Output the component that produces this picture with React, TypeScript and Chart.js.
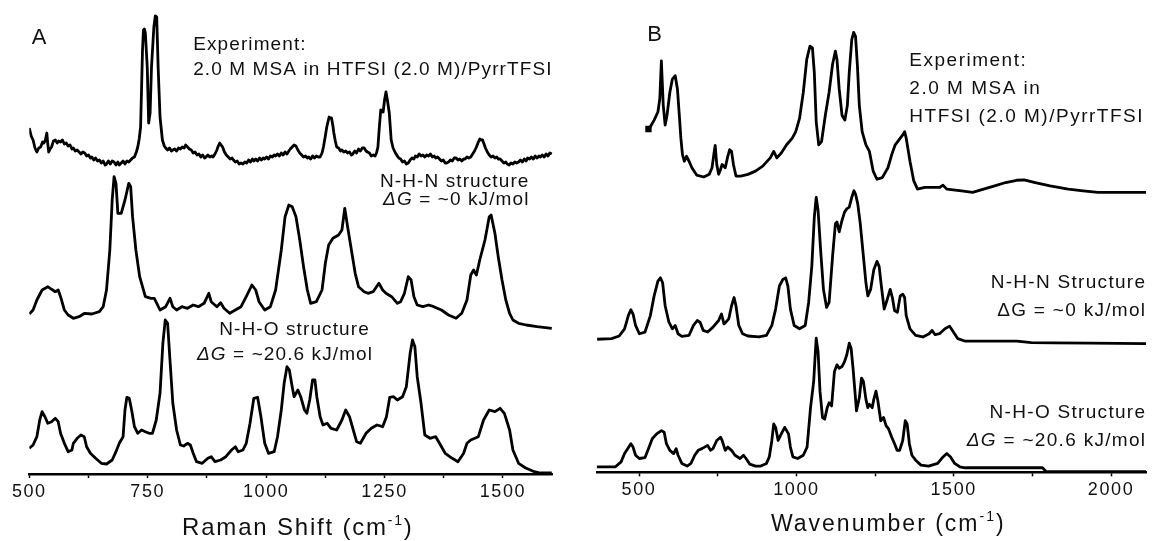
import { useEffect, useRef } from 'react';
import { Chart, registerables } from 'chart.js';

Chart.register(...registerables);

const FONT = "'Liberation Sans', Arial, sans-serif";

// ---------------- Panel A : Raman ----------------
const A_TICKS = [500, 750, 1000, 1250, 1500];
const A_MINOR_TICKS = [625, 875, 1125, 1375];
const A_OFFSETS = [290, 145, 0]; // experiment, N-H-N, N-H-O

const A_EXP_X = [500, 504, 508, 512, 516, 520, 524, 528, 531, 534, 537, 539, 541, 544, 547, 551, 555, 559, 562, 566, 570, 574, 578, 582, 586, 590, 593, 597, 601, 605, 609, 613, 617, 621, 625, 629, 632, 636, 640, 644, 648, 652, 656, 660, 663, 667, 671, 675, 679, 683, 687, 690, 694, 698, 702, 706, 710, 714, 718, 722, 726, 729, 732, 735, 739, 741, 743, 745, 749, 752, 755, 758, 763, 766, 769, 772, 776, 781, 785, 788, 792, 796, 800, 803, 807, 811, 815, 819, 823, 827, 830, 834, 838, 842, 846, 850, 854, 858, 862, 866, 870, 873, 877, 881, 885, 888, 892, 896, 899, 902, 905, 908, 912, 916, 920, 924, 928, 931, 935, 939, 943, 947, 951, 955, 959, 963, 967, 971, 974, 978, 982, 986, 990, 994, 997, 1001, 1005, 1009, 1013, 1017, 1020, 1024, 1028, 1032, 1036, 1040, 1044, 1048, 1051, 1055, 1059, 1063, 1067, 1071, 1075, 1079, 1083, 1087, 1090, 1094, 1098, 1102, 1106, 1110, 1114, 1118, 1121, 1125, 1128, 1133, 1135, 1138, 1141, 1143, 1146, 1149, 1153, 1157, 1160, 1164, 1168, 1172, 1176, 1180, 1183, 1187, 1191, 1195, 1199, 1203, 1207, 1211, 1214, 1218, 1222, 1226, 1230, 1233, 1236, 1239, 1242, 1245, 1247, 1250, 1253, 1256, 1260, 1264, 1268, 1273, 1277, 1280, 1284, 1288, 1292, 1296, 1300, 1304, 1308, 1312, 1315, 1319, 1323, 1327, 1331, 1335, 1339, 1343, 1347, 1351, 1355, 1358, 1362, 1366, 1370, 1374, 1378, 1381, 1385, 1389, 1393, 1397, 1401, 1405, 1409, 1413, 1417, 1420, 1424, 1428, 1432, 1436, 1440, 1444, 1448, 1451, 1454, 1457, 1460, 1463, 1467, 1471, 1475, 1479, 1483, 1487, 1490, 1494, 1498, 1502, 1506, 1509, 1513, 1517, 1521, 1525, 1529, 1533, 1537, 1541, 1545, 1549, 1552, 1556, 1560, 1564, 1568, 1572, 1576, 1579, 1583, 1587, 1591, 1595, 1599, 1603];
const A_EXP_Y = [56, 48, 44, 36, 32, 36, 37, 42, 41, 44, 51, 40, 32, 35, 37, 43, 44, 41, 43, 42, 44, 40, 41, 38, 39, 35, 36, 33, 34, 32, 30, 32, 31, 28, 29, 26, 27, 24, 26, 23, 24, 21, 23, 19, 20, 23, 20, 23, 22, 19, 22, 19, 21, 23, 20, 23, 22, 24, 26, 27, 32, 37, 45, 57, 134, 154, 155, 151, 117, 61, 71, 117, 157, 168, 167, 117, 67, 44, 38, 36, 34, 36, 33, 34, 35, 33, 36, 35, 37, 36, 39, 37, 35, 34, 31, 32, 29, 30, 27, 29, 26, 27, 29, 27, 28, 27, 30, 34, 38, 41, 39, 37, 32, 29, 27, 25, 26, 24, 22, 23, 20, 21, 20, 22, 21, 24, 22, 25, 23, 25, 23, 26, 24, 26, 25, 27, 25, 28, 27, 29, 28, 30, 28, 31, 29, 32, 30, 33, 35, 37, 39, 38, 34, 31, 29, 27, 28, 26, 27, 25, 28, 26, 28, 27, 27, 31, 37, 48, 57, 67, 66, 66, 58, 51, 43, 37, 36, 33, 34, 32, 33, 31, 32, 29, 30, 33, 31, 35, 33, 36, 36, 33, 32, 31, 28, 29, 28, 31, 37, 57, 74, 73, 72, 84, 92, 84, 71, 44, 36, 31, 28, 26, 25, 22, 23, 20, 21, 24, 26, 25, 28, 27, 30, 28, 29, 27, 29, 28, 30, 27, 28, 26, 27, 25, 23, 24, 21, 21, 22, 24, 23, 26, 26, 24, 25, 23, 25, 25, 27, 26, 27, 30, 33, 37, 42, 45, 44, 44, 40, 36, 32, 29, 27, 28, 26, 27, 25, 25, 23, 21, 22, 20, 19, 21, 20, 22, 21, 22, 24, 22, 25, 23, 26, 25, 27, 25, 28, 26, 28, 27, 29, 27, 30, 28, 31, 30];

const A_NHN_X = [500, 508, 516, 527, 539, 547, 555, 561, 566, 574, 582, 593, 605, 617, 632, 648, 656, 663, 670, 675, 679, 683, 687, 694, 702, 710, 714, 718, 725, 733, 745, 757, 764, 776, 788, 797, 803, 811, 822, 834, 846, 857, 869, 879, 884, 896, 904, 911, 923, 935, 947, 958, 970, 978, 985, 997, 1009, 1020, 1032, 1040, 1048, 1055, 1063, 1071, 1079, 1087, 1094, 1106, 1118, 1125, 1132, 1141, 1153, 1160, 1166, 1172, 1180, 1188, 1195, 1207, 1215, 1226, 1238, 1246, 1253, 1265, 1277, 1284, 1292, 1300, 1306, 1312, 1319, 1331, 1343, 1354, 1370, 1385, 1401, 1413, 1424, 1432, 1438, 1444, 1451, 1462, 1471, 1475, 1483, 1490, 1498, 1506, 1514, 1521, 1533, 1549, 1572, 1603];
const A_NHN_Y = [15, 19, 29, 39, 42.3, 39.7, 37.3, 39, 32.3, 19, 14, 10.7, 12.3, 15.7, 15, 17.3, 22.3, 39, 79, 129, 152.3, 145.7, 115.7, 115.7, 129, 145.7, 142.3, 112.3, 79, 52.3, 32.3, 30.7, 30.7, 19, 22.3, 30.7, 22.3, 19, 22.3, 20.7, 24, 22.3, 25.7, 35.7, 27.3, 22.3, 26.3, 20.7, 15.7, 19, 22.3, 32.3, 44, 39, 27.3, 19, 22.3, 39, 79, 112.3, 124, 122.3, 112.3, 89, 62.3, 39, 25.7, 27.3, 39, 65.7, 84, 90.7, 94, 99, 120.7, 102.3, 79, 55.7, 42.3, 37.3, 35.7, 37.3, 45.7, 39, 35.7, 32.3, 25.7, 27.3, 35.7, 52.3, 49, 32.3, 24, 22.3, 24, 22.3, 19, 14, 10.7, 15.7, 29, 54, 59, 54, 69, 89, 112.3, 114, 95.7, 72.3, 49, 29, 15.7, 9, 5.7, 4, 2.3, 0.7];

const A_NHO_X = [500, 508, 516, 522, 527, 533, 539, 547, 555, 561, 566, 574, 582, 590, 593, 601, 609, 616, 621, 629, 640, 652, 663, 675, 683, 690, 698, 702, 706, 711, 716, 722, 729, 737, 745, 753, 760, 768, 776, 782, 787, 792, 797, 803, 811, 819, 826, 834, 840, 846, 853, 865, 877, 884, 892, 904, 915, 927, 935, 941, 951, 958, 966, 974, 982, 989, 997, 1005, 1017, 1024, 1032, 1038, 1044, 1049, 1055, 1059, 1067, 1073, 1081, 1086, 1092, 1098, 1103, 1107, 1114, 1120, 1129, 1137, 1149, 1160, 1168, 1176, 1184, 1191, 1199, 1211, 1222, 1234, 1246, 1254, 1261, 1269, 1277, 1288, 1296, 1304, 1309, 1314, 1319, 1327, 1335, 1346, 1358, 1366, 1378, 1393, 1405, 1417, 1424, 1432, 1448, 1459, 1471, 1483, 1494, 1503, 1514, 1521, 1533, 1548, 1564, 1579, 1603];
const A_NHO_Y = [25.7, 29, 37.3, 54, 62.3, 57.3, 50.7, 52.3, 55.7, 52.3, 40.7, 30.7, 22.3, 24, 30.7, 35.7, 39, 37.3, 27.3, 20.7, 15.7, 10.7, 10, 14, 22.3, 30.7, 37.3, 64, 76.7, 75.7, 64, 47.3, 40.7, 44, 42.3, 40.7, 40.7, 54, 80.7, 130.7, 154, 150.7, 114, 70.7, 44, 29, 28, 30.7, 29, 20.7, 12.3, 10.7, 15.7, 17.3, 12.3, 14, 17.3, 24, 27.3, 22.3, 24, 30.7, 50.7, 75.7, 76.7, 57.3, 30.7, 20.7, 22.3, 37.3, 64, 90.7, 107.3, 104, 87.3, 77.3, 84, 77.3, 64, 60.7, 74, 94, 94, 77.3, 57.3, 49, 50.7, 45.7, 44, 54, 64, 57.3, 44, 32.3, 30.7, 40.7, 45.7, 49, 47.3, 57.3, 76.7, 77.3, 74, 77.3, 87.3, 120.7, 134, 127.3, 97.3, 70.7, 39, 35.7, 37.3, 30.7, 20.7, 15.7, 12.3, 20.7, 30.7, 34, 37.3, 54, 64, 62.3, 65.7, 60.7, 44, 24, 10.7, 6, 2.7, 1, 1];

// ---------------- Panel B : IR ----------------
const B_TICKS = [500, 1000, 1500, 2000];
const B_MINOR_TICKS = [750, 1250, 1750];
const B_OFFSETS = [280, 130, 0]; // experiment, N-H-N, N-H-O

const B_EXP_X = [530, 536, 548, 560, 566, 571, 577, 583, 589, 598, 606, 615, 622, 628, 633, 638, 644, 651, 659, 668, 683, 706, 723, 732, 739, 742, 747, 753, 759, 764, 774, 782, 788, 794, 800, 808, 823, 846, 870, 893, 917, 928, 938, 952, 969, 987, 998, 1010, 1022, 1033, 1043, 1051, 1057, 1063, 1071, 1080, 1092, 1104, 1115, 1124, 1129, 1136, 1145, 1154, 1162, 1168, 1176, 1182, 1188, 1194, 1200, 1209, 1221, 1232, 1244, 1256, 1273, 1291, 1303, 1314, 1326, 1338, 1344, 1349, 1361, 1373, 1385, 1408, 1455, 1466, 1478, 1525, 1560, 1595, 1630, 1665, 1700, 1724, 1759, 1806, 1864, 1911, 1958, 2028, 2111];
const B_EXP_Y = [68.3, 70.6, 77.3, 85.6, 99, 137.3, 92.3, 72.3, 82.3, 105.6, 119, 122.3, 109, 82.3, 59, 42.3, 35.6, 40.6, 35.6, 29, 21.6, 19.6, 22.3, 29, 45.6, 51.6, 32.3, 22.3, 27.3, 32.3, 29, 40.6, 47.3, 45.6, 32.3, 20.6, 20.6, 22.3, 25.6, 30.6, 39, 45.6, 39, 44, 52.3, 59, 65.6, 79, 105.6, 139, 152.3, 150.6, 125.6, 75.6, 52.3, 55.6, 82.3, 105.6, 134, 147.3, 139, 109, 82.3, 77.3, 92.3, 125.6, 159, 166.3, 162.3, 132.3, 92.3, 65.6, 52.3, 45.6, 25.6, 17.3, 19, 29, 42.3, 52.3, 57.3, 62.3, 65.6, 59, 35.6, 15.6, 7.3, 9, 9, 11.3, 7.3, 5.6, 4, 7.3, 10.6, 14, 16.3, 16.6, 14, 10.6, 7.3, 5.6, 4, 4, 4];

const B_NHN_X = [367, 413, 437, 454, 466, 474, 481, 489, 501, 519, 536, 548, 560, 568, 575, 583, 595, 606, 615, 624, 636, 659, 673, 685, 694, 704, 718, 735, 753, 762, 770, 776, 785, 794, 802, 808, 817, 829, 846, 881, 905, 922, 934, 946, 957, 966, 973, 981, 993, 1010, 1028, 1039, 1049, 1057, 1063, 1069, 1077, 1086, 1096, 1104, 1115, 1124, 1129, 1136, 1145, 1153, 1160, 1168, 1176, 1183, 1188, 1195, 1203, 1213, 1221, 1227, 1236, 1246, 1256, 1263, 1270, 1279, 1289, 1298, 1305, 1312, 1321, 1330, 1338, 1344, 1349, 1361, 1379, 1402, 1422, 1431, 1441, 1455, 1472, 1487, 1499, 1513, 1537, 1583, 1642, 1700, 1747, 1817, 1934, 2111];
const B_NHN_Y = [5, 5.6, 8.3, 15.6, 29, 35, 30.6, 19, 10.6, 12.3, 29, 49, 64, 67.3, 62.3, 39, 22.3, 15.6, 19, 10.6, 8, 9, 19, 24, 22.3, 14, 12.3, 17.3, 24, 30.6, 20.6, 22.3, 25.6, 39, 47.3, 39, 19, 10.6, 8.3, 7.3, 9, 19, 35.6, 59, 65.6, 67.3, 59, 35.6, 19, 15.6, 19, 42.3, 79, 129, 149, 135.6, 95.6, 55.6, 37.3, 42.3, 89, 122.3, 124, 114, 125.6, 134, 137.3, 139, 149, 155.6, 152.3, 142.3, 122.3, 89, 62.3, 49, 55.6, 75.6, 84, 79, 59, 35.6, 45.6, 55.6, 47.3, 34, 32.3, 49, 50.6, 47.3, 29, 15.6, 9, 7.3, 10.6, 14, 9.6, 10.6, 15.6, 18.3, 12.3, 5.6, 3, 3, 3, 3, 1.6, 1.3, 1, 0.6];

const B_NHO_X = [365, 425, 443, 454, 466, 474, 481, 489, 501, 519, 530, 542, 556, 571, 580, 587, 598, 610, 618, 624, 636, 653, 665, 677, 688, 700, 718, 727, 735, 747, 759, 764, 774, 782, 794, 805, 821, 832, 840, 852, 870, 887, 905, 914, 922, 928, 934, 942, 952, 963, 975, 981, 989, 1004, 1022, 1034, 1045, 1055, 1060, 1063, 1069, 1075, 1083, 1090, 1098, 1104, 1112, 1121, 1129, 1136, 1145, 1153, 1160, 1168, 1174, 1180, 1186, 1191, 1200, 1207, 1213, 1221, 1227, 1232, 1241, 1246, 1253, 1259, 1268, 1277, 1285, 1293, 1303, 1312, 1320, 1328, 1338, 1346, 1352, 1359, 1367, 1379, 1396, 1420, 1449, 1466, 1478, 1490, 1503, 1519, 1537, 1583, 1642, 1700, 1782, 1794, 1934, 2111];
const B_NHO_Y = [5.6, 5.6, 10.6, 19, 25, 29, 25.6, 17.3, 14, 15, 24, 34, 39, 42.3, 40.6, 29, 22.3, 19, 24, 17.3, 9, 6.3, 9, 17.3, 22.3, 24, 27.3, 22.3, 24, 32.3, 35.6, 32.3, 22.3, 25.6, 22.3, 17.3, 14, 17.3, 14, 8.3, 6.3, 6.3, 9, 15.6, 32.3, 49, 45.6, 32.3, 39, 45.6, 39, 25.6, 15.6, 14, 17.3, 25.6, 65.6, 92.3, 120, 136, 122, 82.3, 55.6, 54, 65.6, 70.6, 67.3, 102.3, 109, 105.6, 107.3, 112.3, 119, 131, 125.6, 105.6, 82.3, 62.3, 75.6, 95.6, 92.3, 74, 65.6, 69, 65.6, 74, 82.3, 72.3, 52.3, 55.6, 47.3, 44, 35.6, 29, 22.3, 22.3, 32.3, 52.3, 49, 29, 17.3, 12.3, 7.3, 6.3, 9, 15.6, 19, 15.6, 9, 5.6, 4.6, 4.6, 4.6, 4.6, 4.6, 0.6, 0.6, 0.6];

type Seg = { t: string; italic?: boolean; sup?: boolean };
type Label = { segs: Seg[]; x: number; y: number; align: 'left' | 'right' | 'center'; size: number; spacing: number };

const A_LABELS: Label[] = [
  { segs: [{ t: 'A' }], x: 505, y: 430, align: 'left', size: 22, spacing: 0 },
  { segs: [{ t: 'Experiment:' }], x: 846, y: 424, align: 'left', size: 19, spacing: 1.1 },
  { segs: [{ t: '2.0 M MSA in HTFSI (2.0 M)/PyrrTFSI' }], x: 846, y: 399, align: 'left', size: 19, spacing: 1.1 },
  { segs: [{ t: 'N-H-N structure' }], x: 1556, y: 287, align: 'right', size: 19, spacing: 1.1 },
  { segs: [{ t: 'ΔG', italic: true }, { t: ' = ~0 kJ/mol' }], x: 1556, y: 269, align: 'right', size: 19, spacing: 1.1 },
  { segs: [{ t: 'N-H-O structure' }], x: 901, y: 139, align: 'left', size: 19, spacing: 1.1 },
  { segs: [{ t: 'ΔG', italic: true }, { t: ' = ~20.6 kJ/mol' }], x: 854, y: 114, align: 'left', size: 19, spacing: 1.1 },
  { segs: [{ t: 'Raman Shift (cm' }, { t: '-1', sup: true }, { t: ')' }], x: 1067, y: -61, align: 'center', size: 24, spacing: 1.8 },
];

const B_LABELS: Label[] = [
  { segs: [{ t: 'B' }], x: 526, y: 438, align: 'left', size: 22, spacing: 0 },
  { segs: [{ t: 'Experiment:' }], x: 1359, y: 412, align: 'left', size: 19, spacing: 1.5 },
  { segs: [{ t: '2.0 M MSA in' }], x: 1359, y: 384, align: 'left', size: 19, spacing: 1.5 },
  { segs: [{ t: 'HTFSI (2.0 M)/PyrrTFSI' }], x: 1359, y: 355.6, align: 'left', size: 19, spacing: 1.5 },
  { segs: [{ t: 'N-H-N Structure' }], x: 2112, y: 187, align: 'right', size: 19, spacing: 1.3 },
  { segs: [{ t: 'ΔG = ~0 kJ/mol' }], x: 2112, y: 159, align: 'right', size: 19, spacing: 1.3 },
  { segs: [{ t: 'N-H-O Structure' }], x: 2112, y: 55.6, align: 'right', size: 19, spacing: 1.3 },
  { segs: [{ t: 'ΔG', italic: true }, { t: ' = ~20.6 kJ/mol' }], x: 2112, y: 26.3, align: 'right', size: 19, spacing: 1.3 },
  { segs: [{ t: 'Wavenumber (cm' }, { t: '-1', sup: true }, { t: ')' }], x: 1292, y: -59.4, align: 'center', size: 23, spacing: 2.0 },
];

type PanelCfg = {
  xs: number[][];
  ys: number[][];
  offsets: number[];
  ticks: number[];
  minor: number[];
  xMin: number;
  xMax: number;
  yMax: number;
  pad: { left: number; right: number; bottom: number };
  tickPad: number;
  labels: Label[];
  startMarker: boolean;
};

const PANEL_A: PanelCfg = {
  xs: [A_EXP_X, A_NHN_X, A_NHO_X],
  ys: [A_EXP_Y, A_NHN_Y, A_NHO_Y],
  offsets: A_OFFSETS,
  ticks: A_TICKS,
  minor: A_MINOR_TICKS,
  xMin: 500,
  xMax: 1605,
  yMax: 474,
  pad: { left: 29.3, right: 23.3, bottom: 35.4 },
  tickPad: 3,
  labels: A_LABELS,
  startMarker: false,
};

const PANEL_B: PanelCfg = {
  xs: [B_EXP_X, B_NHN_X, B_NHO_X],
  ys: [B_EXP_Y, B_NHN_Y, B_NHO_Y],
  offsets: B_OFFSETS,
  ticks: B_TICKS,
  minor: B_MINOR_TICKS,
  xMin: 365.5,
  xMax: 2111.6,
  yMax: 472.3,
  pad: { left: 20.7, right: 3.3, bottom: 37.9 },
  tickPad: 2.6,
  labels: B_LABELS,
  startMarker: true,
};

function drawRich(ctx: CanvasRenderingContext2D, lab: Label, px: number, py: number) {
  const fontFor = (s: Seg) => `${s.italic ? 'italic ' : ''}${s.sup ? Math.round(lab.size * 0.6) : lab.size}px ${FONT}`;
  (ctx as any).letterSpacing = `${lab.spacing}px`;
  const widths = lab.segs.map((s) => {
    ctx.font = fontFor(s);
    return ctx.measureText(s.t).width;
  });
  const total = widths.reduce((a, b) => a + b, 0);
  let cx = lab.align === 'left' ? px : lab.align === 'right' ? px - total : px - total / 2;
  ctx.textAlign = 'left';
  ctx.textBaseline = 'alphabetic';
  ctx.fillStyle = '#111';
  lab.segs.forEach((s, i) => {
    ctx.font = fontFor(s);
    ctx.fillText(s.t, cx, s.sup ? py - lab.size * 0.42 : py);
    cx += widths[i];
  });
}

function buildConfig(p: PanelCfg): any {
  const allTicks = [...p.ticks, ...p.minor].sort((a, b) => a - b);
  const textPlugin = {
    id: 'panelText',
    beforeDraw(chart: any) {
      (chart.ctx as any).letterSpacing = '1.6px';
    },
    afterDraw(chart: any) {
      const ctx = chart.ctx as CanvasRenderingContext2D;
      const xs = chart.scales.x;
      const ys = chart.scales.y;
      ctx.save();
      p.labels.forEach((lab) => drawRich(ctx, lab, xs.getPixelForValue(lab.x), ys.getPixelForValue(lab.y)));
      ctx.restore();
      (ctx as any).letterSpacing = '0px';
    },
  };
  return {
    type: 'line',
    data: {
      datasets: p.xs.map((xArr, k) => ({
        data: xArr.map((x, i) => ({ x, y: p.ys[k][i] + p.offsets[k] })),
        borderColor: '#000',
        borderWidth: 2.8,
        borderJoinStyle: 'round',
        tension: 0,
        fill: false,
        pointStyle: 'rect',
        pointBackgroundColor: '#000',
        pointBorderColor: '#000',
        pointRadius: (c: any) => (p.startMarker && k === 0 && c.dataIndex === 0 ? 2.5 : 0),
      })),
    },
    options: {
      responsive: false,
      animation: false,
      events: [],
      layout: { padding: { left: p.pad.left, right: p.pad.right, top: 0, bottom: p.pad.bottom } },
      plugins: { legend: { display: false }, tooltip: { enabled: false }, title: { display: false } },
      scales: {
        x: {
          type: 'linear',
          min: p.xMin,
          max: p.xMax,
          afterBuildTicks: (scale: any) => {
            scale.ticks = allTicks.map((v) => ({ value: v }));
          },
          grid: { display: true, drawOnChartArea: false, drawTicks: true, tickLength: 4, tickColor: '#000', tickWidth: 1.5 },
          border: { display: true, color: '#000', width: 2.4 },
          ticks: {
            autoSkip: false,
            maxRotation: 0,
            minRotation: 0,
            padding: p.tickPad,
            color: '#111',
            font: { family: FONT, size: 18 },
            callback: (v: number) => (p.ticks.includes(v) ? String(v) : ''),
          },
        },
        y: { display: false, min: 0, max: p.yMax },
      },
    },
    plugins: [textPlugin],
  };
}

function Panel({ cfg, left, width }: { cfg: PanelCfg; left: number; width: number }) {
  const ref = useRef<HTMLCanvasElement>(null);
  useEffect(() => {
    const chart = new Chart(ref.current as HTMLCanvasElement, buildConfig(cfg));
    return () => chart.destroy();
  }, [cfg]);
  return (
    <canvas
      ref={ref}
      width={width}
      height={541}
      style={{ position: 'absolute', left, top: 0, width, height: 541, display: 'block' }}
    />
  );
}

export default function App() {
  return (
    <div style={{ position: 'absolute', left: 0, top: 0, width: 1153, height: 541, background: '#fff', overflow: 'hidden' }}>
      <Panel cfg={PANEL_A} left={0} width={576} />
      <Panel cfg={PANEL_B} left={576} width={577} />
    </div>
  );
}
